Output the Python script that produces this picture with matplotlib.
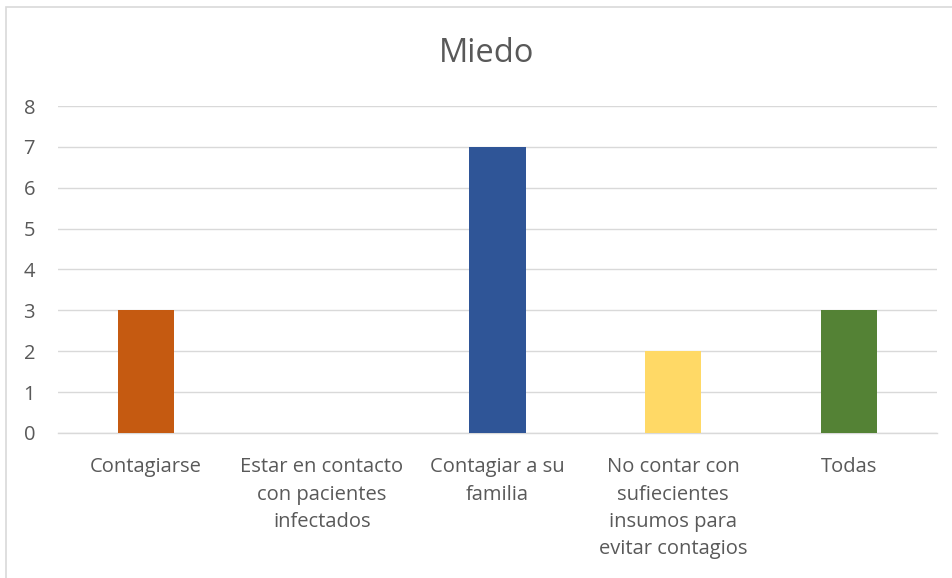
import matplotlib.pyplot as plt
import matplotlib.patches as patches

categorias = ['Contagiarse', 'Estar en contacto\ncon pacientes\ninfectados', 'Contagiar a su\nfamilia',
              'No contar con\nsufiecientes\ninsumos para\nevitar contagios', 'Todas']
valores = [3, 0, 7, 2, 3]
colores = ['#C55A11', '#2F5597', '#2F5597', '#FFD966', '#548235']

plt.rcParams['font.family'] = ['Open Sans', 'DejaVu Sans']
gris = '#595959'

fig = plt.figure(figsize=(9.53, 5.78), dpi=100)
ax = fig.add_axes([0.0609, 0.2509, 0.9223, 0.5657])

x = range(len(categorias))
ax.bar(x, valores, width=0.32, color=colores, zorder=3)

ax.set_xlim(-0.5, len(categorias) - 0.5)
ax.set_ylim(0, 8)
ax.set_yticks(range(0, 9))
ax.set_xticks(list(x))
ax.set_xticklabels(categorias, linespacing=1.49, va='top')
ax.tick_params(axis='both', length=0, labelsize=14.5, colors=gris)
ax.tick_params(axis='y', pad=16.5)
ax.tick_params(axis='x', pad=17.5)
ax.grid(axis='y', color='#D9D9D9', linewidth=1, zorder=0)
for s in ['top', 'right', 'left']:
    ax.spines[s].set_visible(False)
ax.spines['bottom'].set_color('#D9D9D9')
ax.spines['bottom'].set_linewidth(1)

fig.text(487 / 953, 1 - 53 / 578, 'Miedo', ha='center', va='center', fontsize=23.5, color=gris)

# borde del area del grafico
fig.patches.append(patches.Rectangle((6 / 953, -0.1), 1.2, 1 - 7 / 578 + 0.1, transform=fig.transFigure,
                                     fill=False, edgecolor='#D9D9D9', linewidth=1.2))

fig.savefig('out.png', dpi=100)
